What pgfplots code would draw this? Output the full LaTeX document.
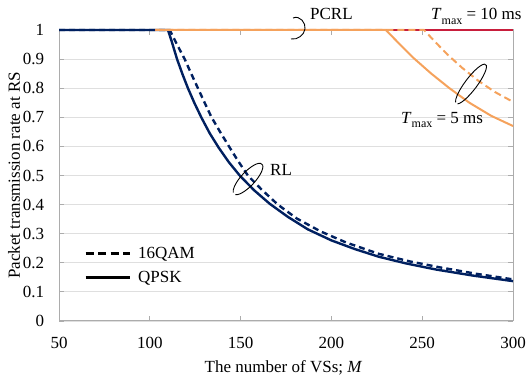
\documentclass[border=0pt]{standalone}
\usepackage{fontspec}
\setmainfont{Liberation Serif}
\usepackage{pgfplots}
\pgfplotsset{compat=1.18}

\definecolor{rlnavy}{RGB}{0,32,96}
\definecolor{pcorange}{RGB}{245,162,92}
\definecolor{pcred}{RGB}{200,30,60}

\newcommand\Tmax{\textit{T}\raisebox{-4.5pt}{\fontsize{12}{13}\selectfont max}}

% QPSK, RL
\pgfplotstableread{
M v
50 1
110 1
112 0.962
115 0.9
118 0.848
121 0.8
124.5 0.75
128.5 0.698
133 0.645
138 0.595
143.5 0.546
149.5 0.5
157.5 0.449
166 0.403
176 0.358
187 0.315
200 0.277
213 0.247
226 0.221
241 0.198
257.5 0.177
278 0.156
300 0.137
}\rlqpsk

% 16QAM, RL
\pgfplotstableread{
M v
50 1
111 1
115 0.95
119.2 0.9
122.8 0.85
126.5 0.8
130.2 0.75
134 0.7
138.7 0.65
143.6 0.6
148.6 0.55
154 0.5
161.5 0.452
170.5 0.4
181 0.352
194 0.308
208 0.27
226 0.231
243 0.205
260 0.184
280 0.162
300 0.143
}\rlqam

% PCRL, Tmax = 10 ms
\pgfplotstableread{
M v
103 1
300 1
}\pcten

% QPSK, PCRL, Tmax = 5 ms
\pgfplotstableread{
M v
103 1
230 1
237 0.955
245 0.905
255 0.85
265 0.8
276 0.75
288 0.705
300 0.67
}\pcfiveqpsk

% 16QAM, PCRL, Tmax = 5 ms
\pgfplotstableread{
M v
103 1
251 1
257 0.96
264 0.915
272 0.87
281 0.825
290 0.787
300 0.753
}\pcfiveqam

\begin{document}
\fontsize{17}{20}\selectfont
\begin{tikzpicture}
\useasboundingbox (0,0) rectangle (529pt,379pt);
\begin{axis}[
  at={(59pt,58pt)}, anchor=south west,
  scale only axis, width=454pt, height=291pt,
  xmin=50, xmax=300, ymin=0, ymax=1,
  xtick={50,100,150,200,250,300},
  ytick={0,0.1,0.2,0.3,0.4,0.5,0.6,0.7,0.8,0.9,1},
  yticklabels={0,0.1,0.2,0.3,0.4,0.5,0.6,0.7,0.8,0.9,1},
  /pgf/number format/assume math mode=true,
  ticklabel style={font=\fontsize{17}{20}\selectfont},
  ymajorgrids,
  grid style={draw=gray!25, line width=0.8pt},
  axis line style={draw=gray!65, line width=1pt},
  tick style={draw=gray!65, line width=0.8pt},
  major tick length=5pt,
  tick align=inside,
  clip=false,
  xticklabel style={yshift=-10pt},
  yticklabel style={xshift=-9pt},
  xlabel={The number of VSs; \textit{M}},
  ylabel={Packet transmission rate at RS},
  label style={font=\fontsize{17}{20}\selectfont},
  xlabel style={at={(rel axis cs:0.4945,-0.16)}, anchor=center},
  ylabel style={at={(rel axis cs:-0.0991,0.5)}, anchor=center},
  legend image code/.code={\draw[#1] (0pt,0pt) -- (44pt,0pt);},
  legend style={at={(rel axis cs:0.055,0.262)}, anchor=north west,
    draw=none, fill=none, inner sep=0pt, row sep=6pt,
    font=\fontsize{17}{20}\selectfont,
    /tikz/every odd column/.append style={column sep=5pt}},
  legend cell align=left,
]
\addplot[rlnavy, line width=2.4pt, forget plot] table[x=M, y=v] {\rlqpsk};
\addplot[rlnavy, line width=2.4pt, dash pattern=on 6pt off 4pt, forget plot] table[x=M, y=v] {\rlqam};
\addplot[pcred, line width=2.4pt, forget plot] table[x=M, y=v] {\pcten};
\addplot[pcorange, line width=2pt, dash pattern=on 7pt off 4pt, forget plot] table[x=M, y=v] {\pcfiveqam};
\addplot[pcorange, line width=2pt, forget plot] table[x=M, y=v] {\pcfiveqpsk};
\addlegendimage{black, line width=3pt, dash pattern=on 8pt off 4.5pt}
\addlegendentry{16QAM}
\addlegendimage{black, line width=3pt}
\addlegendentry{QPSK}
\end{axis}

% curve group markers and their captions
\begin{scope}[line width=0.9pt]
  \draw (293pt,361pt) .. controls (300pt,364pt) and (306pt,356pt) .. (305pt,350pt)
        .. controls (304pt,344pt) and (298pt,339pt) .. (291pt,340pt);
  \draw[shift={(471pt,295pt)}, rotate=53]
    (192:24.5pt and 6pt) arc[start angle=192, end angle=528, x radius=24.5pt, y radius=6pt];
  \draw[shift={(248pt,200pt)}, rotate=47]
    (192:20.5pt and 7pt) arc[start angle=192, end angle=528, x radius=20.5pt, y radius=7pt];
\end{scope}
\node[anchor=base west, inner sep=0pt] at (310pt,359pt) {PCRL};
\node[anchor=base west, inner sep=0pt] at (431pt,359pt) {\Tmax{} = 10 ms};
\node[anchor=base west, inner sep=0pt] at (401pt,255.7pt) {\Tmax{} = 5 ms};
\node[anchor=base west, inner sep=0pt] at (270pt,203.3pt) {RL};
\end{tikzpicture}
\end{document}
